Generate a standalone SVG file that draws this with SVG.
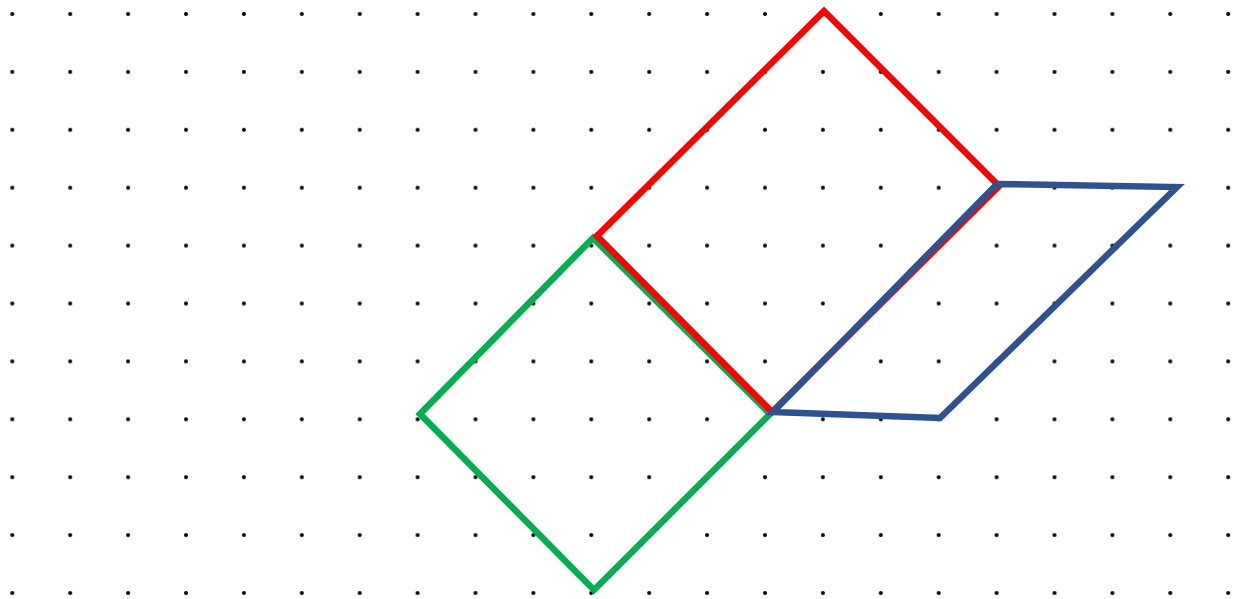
<svg xmlns="http://www.w3.org/2000/svg" xmlns:xlink="http://www.w3.org/1999/xlink" width="1239" height="599" viewBox="0 0 1239 599">
<style>
.sq{fill:none;stroke-width:6.5;stroke-linejoin:miter}
</style>
<defs>
<pattern id="dots" x="12.3" y="14" width="57.9" height="57.9" patternUnits="userSpaceOnUse">
<circle cx="0" cy="0" r="2" fill="#000"/><circle cx="57.9" cy="0" r="2" fill="#000"/><circle cx="0" cy="57.9" r="2" fill="#000"/><circle cx="57.9" cy="57.9" r="2" fill="#000"/>
</pattern>
</defs>
<rect width="1239" height="599" fill="#fff"/>
<rect x="0" y="0" width="1239" height="599" fill="url(#dots)"/>
<g id="green"><polygon class="sq" stroke="#00B050" points="593,238 770,414 594,590 420,414"/></g>
<g id="red"><polygon class="sq" stroke="#FF0000" stroke-width="7" points="824,11 999,186 772,412 597,236"/></g>
<g id="blue"><polygon class="sq" stroke="#2F528F" points="773,412 997,184 1177,187 940,418"/></g>
</svg>
